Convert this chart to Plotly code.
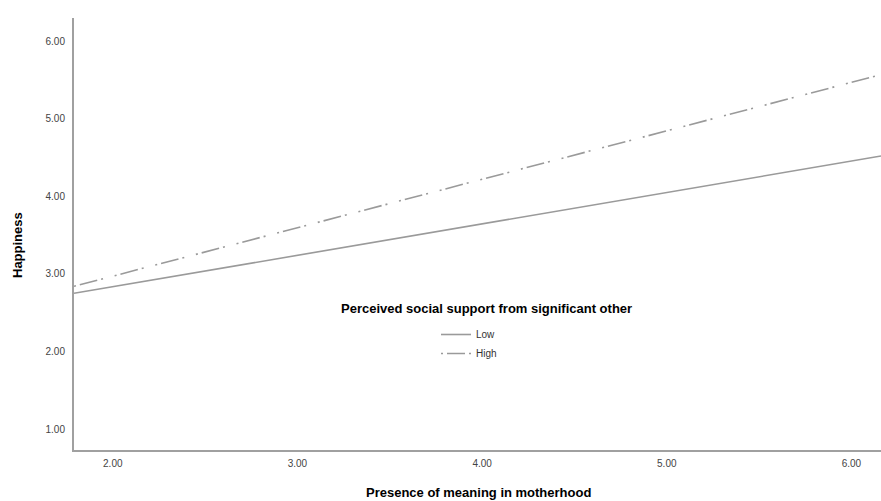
import plotly.graph_objects as go

x_vals = [1.79, 6.16]
low_vals = [2.75, 4.52]
high_vals = [2.84, 5.57]
x_ticks = [2, 3, 4, 5, 6]
x_ticklabels = ["2.00", "3.00", "4.00", "5.00", "6.00"]
y_ticks = [1, 2, 3, 4, 5, 6]
y_ticklabels = ["1.00", "2.00", "3.00", "4.00", "5.00", "6.00"]

fig = go.Figure()
fig.add_trace(go.Scatter(x=x_vals, y=low_vals, mode="lines", name="Low",
                         line=dict(color="#9a9a9a", width=1.6)))
fig.add_trace(go.Scatter(x=x_vals, y=high_vals, mode="lines", name="High",
                         line=dict(color="#9a9a9a", width=1.6,
                                   dash="2px,4px,18px,4px,2px,12px")))

font = "Liberation Sans, Arial, sans-serif"
W, H = 881, 501
L, R, T, B = 74, 0, 18, 51
pw, ph = W - L - R, H - T - B


def px(xp):
    return (xp - L) / pw


def py(yp):
    return (H - B - yp) / ph


fig.update_layout(
    width=W, height=H,
    margin=dict(l=L, r=R, t=T, b=B, autoexpand=False),
    paper_bgcolor="white", plot_bgcolor="white",
    font=dict(family=font, color="#000"),
    xaxis=dict(range=[1.79, 6.16], tickvals=x_ticks, ticktext=x_ticklabels,
               showgrid=False, zeroline=False, showline=True, linecolor="#a0a0a0",
               linewidth=2, ticks="", automargin=False, ticklabelstandoff=3,
               tickfont=dict(size=10, color="#444")),
    yaxis=dict(range=[0.73, 6.30], tickvals=y_ticks, ticktext=y_ticklabels,
               showgrid=False, zeroline=False, showline=True, linecolor="#a0a0a0",
               linewidth=2, ticks="", automargin=False, ticklabelstandoff=5,
               tickfont=dict(size=10, color="#444")),
    showlegend=True,
    legend=dict(x=px(436), y=py(320), xanchor="left", yanchor="top",
                bgcolor="rgba(0,0,0,0)", font=dict(size=10, color="#333"),
                tracegroupgap=0, itemwidth=30),
    annotations=[
        dict(text="<b>Perceived social support from significant other</b>",
             x=px(487), y=py(308), xref="paper", yref="paper",
             showarrow=False, font=dict(size=13, color="#000"),
             xanchor="center", yanchor="middle"),
        dict(text="<b>Presence of meaning in motherhood</b>",
             x=px(478), y=py(492), xref="paper", yref="paper",
             showarrow=False, font=dict(size=13, color="#000"),
             xanchor="center", yanchor="middle"),
        dict(text="<b>Happiness</b>", textangle=-90,
             x=px(17), y=py(245), xref="paper", yref="paper",
             showarrow=False, font=dict(size=13, color="#000"),
             xanchor="center", yanchor="middle"),
    ],
)
fig.write_html(
    "out.html",
    config={"displayModeBar": False},
    post_script="document.body.style.margin='0';document.body.style.padding='0';"
                "document.documentElement.style.overflow='hidden';",
)
